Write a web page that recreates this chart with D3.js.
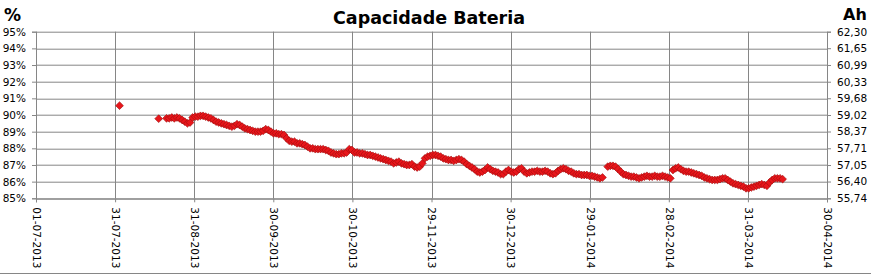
<!DOCTYPE html>
<html>
<head>
<meta charset="utf-8">
<script src="https://cdn.jsdelivr.net/npm/d3@7"></script>
<style>
  body { margin:0; background:#fff; }
  text { font-family: "DejaVu Sans", Verdana, sans-serif; fill:#000; }
</style>
</head>
<body>
<div id="canvas"></div>
<script>
// data: one value per day starting at firstDay, null = no reading
var firstDay = '02-08-2013';
var pct = [
  90.56,
  null,null,null,null,null,null,null,null,null,null,null,null,null,null,
  89.78, null, null,
  89.8, 89.8, 89.85, 89.8, 89.85, 89.8, 89.7, 89.6, 89.5, 89.55,
  89.85, 89.9, 89.9, 89.95, 89.95, 89.9, 89.85, 89.8, 89.7, 89.6,
  89.55, 89.5, 89.45, 89.4, 89.35, 89.3, 89.35, 89.45, 89.4, 89.3,
  89.2, 89.15, 89.1, 89.05, 89.0, 89.0, 89.0, 89.05, 89.15, 89.1,
  89.0, 88.9, 88.9, 88.85, 88.85, 88.8, 88.6, 88.45, 88.4, 88.4,
  88.3, 88.3, 88.25, 88.2, 88.1, 88.0, 88.0, 87.95, 87.95, 87.95,
  87.95, 87.9, 87.85, 87.75, 87.7, 87.65, 87.65, 87.7, 87.7, 87.75,
  87.95, 87.9, 87.75, 87.75, 87.7, 87.7, 87.65, 87.6, 87.6, 87.55,
  87.5, 87.45, 87.4, 87.35, 87.3, 87.25, 87.2, 87.1, 87.15, 87.2,
  87.1, 87.05, 87.0, 87.0, 87.05, 86.9, 86.85, 86.9, 87.1, 87.4,
  87.5, 87.55, 87.6, 87.6, 87.55, 87.5, 87.4, 87.35, 87.3, 87.3,
  87.25, 87.3, 87.35, 87.3, 87.2, 87.05, 86.95, 86.85, 86.75, 86.6,
  86.55, 86.6, 86.7, 86.85, 86.75, 86.65, 86.6, 86.55, 86.45, 86.45,
  86.6, 86.7, 86.6, 86.55, 86.6, 86.75, 86.8, 86.6, 86.5, 86.55,
  86.6, 86.6, 86.65, 86.6, 86.6, 86.65, 86.6, 86.5, 86.45, 86.5,
  86.65, 86.75, 86.8, 86.75, 86.65, 86.6, 86.5, 86.45, 86.45, 86.4,
  86.4, 86.4, 86.35, 86.35, 86.3, 86.25, 86.2, 86.25, null, 86.9,
  86.95, 86.95, 86.9, 86.75, 86.6, 86.45, 86.4, 86.35, 86.3, 86.3,
  86.25, 86.2, 86.25, 86.3, 86.35, 86.3, 86.3, 86.35, 86.3, 86.3,
  86.35, 86.3, 86.25, 86.2, 86.7, 86.8, 86.85, 86.75, 86.65, 86.6,
  86.6, 86.55, 86.5, 86.45, 86.4, 86.35, 86.25, 86.2, 86.15, 86.1,
  86.1, 86.1, 86.15, 86.2, 86.2, 86.1, 86.0, 85.9, 85.85, 85.8,
  85.75, 85.7, 85.6, 85.6, 85.65, 85.7, 85.75, 85.8, 85.85, 85.8,
  85.75, 85.95, 86.1, 86.2, 86.2, 86.2, 86.15
];
var xTickLabels = ['01-07-2013','31-07-2013','31-08-2013','30-09-2013','30-10-2013','29-11-2013',
                   '30-12-2013','29-01-2014','28-02-2014','31-03-2014','30-04-2014'];
var pctTicks = [85,86,87,88,89,90,91,92,93,94,95];
var ahTicks = [55.74,56.40,57.05,57.71,58.37,59.02,59.68,60.33,60.99,61.65,62.30];

var W = 871, H = 274;
var m = {t:31.7, r:44, b:75.7, l:36};
var w = W - m.l - m.r, h = H - m.t - m.b;
var grid = '#868686';

var parseDate = d3.timeParse('%d-%m-%Y');
var start = parseDate(xTickLabels[0]), end = parseDate(xTickLabels[xTickLabels.length-1]);
var day0 = parseDate(firstDay);

var rows = pct.map(function(v,i){ return {date:d3.timeDay.offset(day0,i), value:v}; })
  .filter(function(d){ return d.value !== null; });

var svg = d3.select('#canvas').append('svg')
  .attr('width',W).attr('height',H);
svg.append('rect').attr('width',W).attr('height',H).attr('fill','#fff');

var plot = svg.append('g')
  .attr('transform','translate(' + m.l + ',' + m.t + ')');

var scaleX = d3.scaleTime().domain([start,end]).range([0,w]);
var scaleY = d3.scaleLinear().domain([85,95]).range([h,0]);
var scaleAh = d3.scaleLinear().domain([55.74,62.30]).range([h,0]);

// excel spaces the date ticks evenly over the range
var xTicks = d3.range(xTickLabels.length).map(function(i){
  return new Date(+start + i*(end-start)/(xTickLabels.length-1));
});

// gridlines
plot.append('g').selectAll('line.h').data(pctTicks).enter().append('line')
  .attr('x1',0).attr('x2',w)
  .attr('y1',function(d){return Math.round(scaleY(d))+0.5;})
  .attr('y2',function(d){return Math.round(scaleY(d))+0.5;})
  .attr('stroke',grid);
plot.append('g').selectAll('line.v').data(xTicks).enter().append('line')
  .attr('y1',0).attr('y2',h)
  .attr('x1',function(d){return Math.round(scaleX(d))+0.5;})
  .attr('x2',function(d){return Math.round(scaleX(d))+0.5;})
  .attr('stroke',grid);

// axes
var axisL = d3.axisLeft(scaleY).tickValues(pctTicks).tickSize(4).tickPadding(6)
  .tickFormat(function(d){return d + '%';});
var axisR = d3.axisRight(scaleAh).tickValues(ahTicks).tickSize(4).tickPadding(6)
  .tickFormat(function(d){return d3.format('.2f')(d).replace('.',',');});
var axisB = d3.axisBottom(scaleX).tickValues(xTicks).tickSize(4)
  .tickFormat(function(d,i){return xTickLabels[i];});

var gL = plot.append('g').attr('class','axis').call(axisL);
var gR = plot.append('g').attr('class','axis').attr('transform','translate(' + w + ',0)').call(axisR);
var gB = plot.append('g').attr('class','axis').attr('transform','translate(0,' + h + ')').call(axisB);

[gL,gR,gB].forEach(function(g){
  g.select('.domain').attr('stroke',grid);
  g.selectAll('.tick line').attr('stroke',grid);
  g.selectAll('text').style('font-size','10.5px').attr('fill','#000');
});
gB.selectAll('text')
  .attr('transform','rotate(90)')
  .attr('text-anchor','start')
  .attr('x',9).attr('y',0).attr('dy','0.35em');

// markers
plot.append('g').selectAll('path.pt').data(rows).enter().append('path')
  .attr('class','pt')
  .attr('d','M0,-3.9L3.9,0L0,3.9L-3.9,0Z')
  .attr('transform',function(d){return 'translate(' + scaleX(d.date) + ',' + scaleY(d.value) + ')';})
  .attr('fill','#e8161b')
  .attr('stroke','#9c0c0c')
  .attr('stroke-width',0.6);

// titles
svg.append('text').attr('x',429).attr('y',24).attr('text-anchor','middle')
  .style('font-size','17.5px').style('font-weight','bold').text('Capacidade Bateria');
svg.append('text').attr('x',4).attr('y',21)
  .style('font-size','17px').style('font-weight','bold').text('%');
svg.append('text').attr('x',843).attr('y',20)
  .style('font-size','16px').style('font-weight','bold').text('Ah');

svg.append('line').attr('x1',0).attr('x2',W).attr('y1',H-0.5).attr('y2',H-0.5).attr('stroke',grid);
</script>
</body>
</html>
